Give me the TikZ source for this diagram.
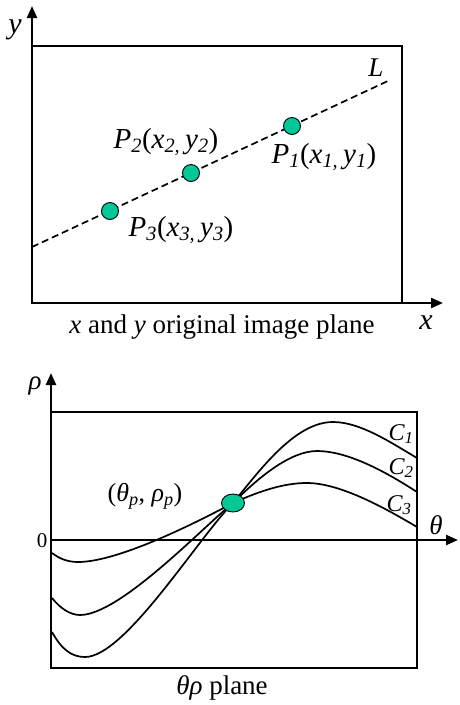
\documentclass[tikz,border=0pt]{standalone}
\usepackage{fontspec}
\setmainfont{Liberation Serif}
\usetikzlibrary{arrows.meta,shapes.geometric}
\definecolor{hough}{RGB}{0,200,150}
\begin{document}
\begin{tikzpicture}[x=1pt,y=-1pt,
  frame/.style={line width=2.3pt},
  axis/.style={line width=2.3pt,-{Triangle[length=12pt,width=10pt]}},
  curve/.style={line width=1.7pt},
  dot/.style={circle,fill=hough,draw=black,line width=0.9pt,minimum size=17pt,inner sep=0pt},
  hdot/.style={ellipse,fill=hough,draw=black,line width=0.9pt,minimum width=23pt,minimum height=18pt,inner sep=0pt},
  lbl/.style={inner sep=0pt,font=\fontsize{30}{32}\selectfont\itshape},
  plbl/.style={inner sep=0pt,font=\fontsize{29}{32}\selectfont\itshape},
  captext/.style={inner sep=0pt,font=\fontsize{27}{30}\selectfont},
  clbl/.style={inner sep=0pt,font=\fontsize{24}{26}\selectfont\itshape}]
\useasboundingbox (0,0) rectangle (459,705);
% ---------- top panel ----------
\coordinate (o1) at (32,303);
\coordinate (ytip) at (32,6);
\coordinate (xtip) at (443,303);
\draw[frame] (32,46) rectangle (402,303);
\draw[axis] (o1) -- (ytip);
\draw[axis] (o1) -- (xtip);
\coordinate (L0) at (32,247);
\coordinate (L1) at (390,80);
\draw[line width=1.7pt,dash pattern=on 7pt off 4pt] (L0) -- (L1);
\node[dot] (p1) at (292,126) {};
\node[dot] (p2) at (191,173) {};
\node[dot] (p3) at (110,211) {};
\node[lbl,font=\fontsize{27}{28}\selectfont\itshape] (lL) at (376,68) {L};
\node[plbl] (p2l) at (166,142) {P\textsubscript{2}\upshape(\itshape x\textsubscript{2,}\,y\textsubscript{2}\upshape)};
\node[plbl] (p1l) at (324,157) {P\textsubscript{1}\upshape(\itshape x\textsubscript{1,}\,y\textsubscript{1}\upshape)};
\node[plbl] (p3l) at (181,230) {P\textsubscript{3}\upshape(\itshape x\textsubscript{3,}\,y\textsubscript{3}\upshape)};
\node[lbl] (ylab) at (15,30) {y};
\node[lbl] (xlab) at (426,323) {x};
\node[captext] (cap1) at (222,327) {\textit{x} and \textit{y} original image plane};
% ---------- bottom panel ----------
\coordinate (o2) at (51,668);
\coordinate (rtip) at (51,373);
\coordinate (z0) at (51,540);
\coordinate (ttip) at (458,540);
\coordinate (cx) at (233,503);
\draw[frame] (51,412) rectangle (417,668);
\draw[axis] (o2) -- (rtip);
\draw[axis] (z0) -- (ttip);
% C1
\draw[curve] (52,632) .. controls (62,650) and (72,657) .. (85,657)
  .. controls (125,657) and (198,538) .. (cx)
  .. controls (260,470) and (295,422) .. (333,422)
  .. controls (360,422) and (390,442) .. (417,458);
% C2
\draw[curve] (52,598) .. controls (60,608) and (70,615) .. (80,615)
  .. controls (120,615) and (203,527) .. (cx)
  .. controls (258,478) and (290,451) .. (317,451)
  .. controls (345,451) and (380,468) .. (417,492);
% C3
\draw[curve] (52,553) .. controls (60,559) and (68,562) .. (78,562)
  .. controls (120,562) and (203,519) .. (cx)
  .. controls (262,490) and (285,483) .. (307,483)
  .. controls (340,483) and (385,508) .. (417,527);
\node[hdot] (pp) at (cx) {};
\node[inner sep=0pt,font=\fontsize{26}{28}\selectfont] (ppl) at (145,496) {(\textit{θ\textsubscript{p}}, \textit{ρ\textsubscript{p}})};
\node[clbl] (c1) at (401,434) {C\textsubscript{1}};
\node[clbl] (c2) at (401,468) {C\textsubscript{2}};
\node[clbl] (c3) at (399,505) {C\textsubscript{3}};
\node[inner sep=0pt,font=\fontsize{21}{22}\selectfont] (zero) at (42,541) {0};
\node[lbl,font=\fontsize{27}{28}\selectfont\itshape] (rho) at (35,386) {ρ};
\node[lbl,font=\fontsize{27}{28}\selectfont\itshape] (theta) at (436,525) {θ};
\node[captext] (cap2) at (222,688) {\textit{θρ} plane};
\end{tikzpicture}
\end{document}
